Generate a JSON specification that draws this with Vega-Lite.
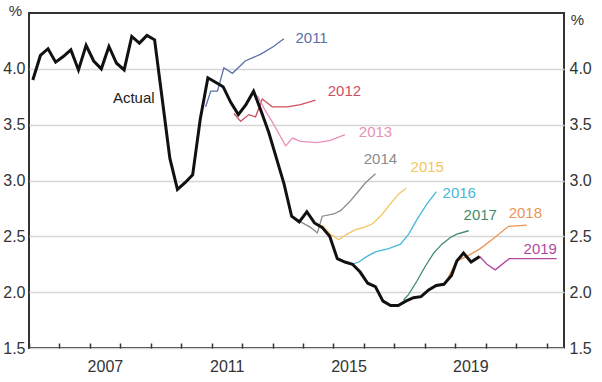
{
  "$schema": "https://vega.github.io/schema/vega-lite/v6.json",
  "width": 535,
  "height": 335,
  "autosize": {"type": "none"},
  "padding": {"left": 29, "top": 13, "right": 38, "bottom": 34},
  "background": "white",
  "config": {
    "view": {"stroke": "#333333", "strokeWidth": 2},
    "font": "Liberation Sans"
  },
  "datasets": {
    "actual": [
      {"t": 2005.125, "v": 3.90}, {"t": 2005.375, "v": 4.12}, {"t": 2005.625, "v": 4.18}, {"t": 2005.875, "v": 4.06},
      {"t": 2006.125, "v": 4.11}, {"t": 2006.375, "v": 4.17}, {"t": 2006.625, "v": 3.99}, {"t": 2006.875, "v": 4.21},
      {"t": 2007.125, "v": 4.07}, {"t": 2007.375, "v": 4.00}, {"t": 2007.625, "v": 4.20}, {"t": 2007.875, "v": 4.05},
      {"t": 2008.125, "v": 3.99}, {"t": 2008.375, "v": 4.29}, {"t": 2008.625, "v": 4.23}, {"t": 2008.875, "v": 4.30},
      {"t": 2009.125, "v": 4.26}, {"t": 2009.375, "v": 3.73}, {"t": 2009.625, "v": 3.20}, {"t": 2009.875, "v": 2.92},
      {"t": 2010.125, "v": 2.98}, {"t": 2010.375, "v": 3.05}, {"t": 2010.625, "v": 3.55}, {"t": 2010.875, "v": 3.92},
      {"t": 2011.125, "v": 3.88}, {"t": 2011.375, "v": 3.84}, {"t": 2011.625, "v": 3.70}, {"t": 2011.875, "v": 3.59},
      {"t": 2012.125, "v": 3.68}, {"t": 2012.375, "v": 3.80}, {"t": 2012.625, "v": 3.62}, {"t": 2012.875, "v": 3.43},
      {"t": 2013.125, "v": 3.20}, {"t": 2013.375, "v": 2.97}, {"t": 2013.625, "v": 2.68}, {"t": 2013.875, "v": 2.63},
      {"t": 2014.125, "v": 2.72}, {"t": 2014.375, "v": 2.62}, {"t": 2014.625, "v": 2.58}, {"t": 2014.875, "v": 2.50},
      {"t": 2015.125, "v": 2.30}, {"t": 2015.375, "v": 2.27}, {"t": 2015.625, "v": 2.25}, {"t": 2015.875, "v": 2.18},
      {"t": 2016.125, "v": 2.08}, {"t": 2016.375, "v": 2.05}, {"t": 2016.625, "v": 1.92}, {"t": 2016.875, "v": 1.88},
      {"t": 2017.125, "v": 1.88}, {"t": 2017.375, "v": 1.92}, {"t": 2017.625, "v": 1.95}, {"t": 2017.875, "v": 1.96},
      {"t": 2018.125, "v": 2.02}, {"t": 2018.375, "v": 2.06}, {"t": 2018.625, "v": 2.07}, {"t": 2018.875, "v": 2.15},
      {"t": 2019.05, "v": 2.28}, {"t": 2019.27, "v": 2.35}, {"t": 2019.52, "v": 2.27}, {"t": 2019.8, "v": 2.32}
    ],
    "forecasts": [
      {"s": "2011", "t": 2010.80, "v": 3.66}, {"s": "2011", "t": 2010.97, "v": 3.80}, {"s": "2011", "t": 2011.19, "v": 3.80},
      {"s": "2011", "t": 2011.40, "v": 4.01}, {"s": "2011", "t": 2011.68, "v": 3.96}, {"s": "2011", "t": 2012.10, "v": 4.07},
      {"s": "2011", "t": 2012.60, "v": 4.13}, {"s": "2011", "t": 2013.03, "v": 4.20}, {"s": "2011", "t": 2013.37, "v": 4.27},

      {"s": "2012", "t": 2011.73, "v": 3.60}, {"s": "2012", "t": 2011.95, "v": 3.53}, {"s": "2012", "t": 2012.22, "v": 3.59},
      {"s": "2012", "t": 2012.44, "v": 3.57}, {"s": "2012", "t": 2012.66, "v": 3.73}, {"s": "2012", "t": 2012.99, "v": 3.66},
      {"s": "2012", "t": 2013.48, "v": 3.66}, {"s": "2012", "t": 2013.92, "v": 3.68}, {"s": "2012", "t": 2014.41, "v": 3.72},

      {"s": "2013", "t": 2012.50, "v": 3.76}, {"s": "2013", "t": 2012.75, "v": 3.63}, {"s": "2013", "t": 2013.00, "v": 3.52},
      {"s": "2013", "t": 2013.43, "v": 3.31}, {"s": "2013", "t": 2013.65, "v": 3.38}, {"s": "2013", "t": 2013.92, "v": 3.35},
      {"s": "2013", "t": 2014.47, "v": 3.34}, {"s": "2013", "t": 2014.90, "v": 3.36}, {"s": "2013", "t": 2015.38, "v": 3.41},

      {"s": "2014", "t": 2013.70, "v": 2.66}, {"s": "2014", "t": 2013.92, "v": 2.63}, {"s": "2014", "t": 2014.25, "v": 2.58},
      {"s": "2014", "t": 2014.47, "v": 2.53}, {"s": "2014", "t": 2014.63, "v": 2.68}, {"s": "2014", "t": 2015.01, "v": 2.70},
      {"s": "2014", "t": 2015.23, "v": 2.73}, {"s": "2014", "t": 2015.50, "v": 2.80}, {"s": "2014", "t": 2015.78, "v": 2.89},
      {"s": "2014", "t": 2016.05, "v": 2.98}, {"s": "2014", "t": 2016.38, "v": 3.06},

      {"s": "2015", "t": 2014.63, "v": 2.60}, {"s": "2015", "t": 2014.90, "v": 2.52}, {"s": "2015", "t": 2015.17, "v": 2.47},
      {"s": "2015", "t": 2015.45, "v": 2.52}, {"s": "2015", "t": 2015.72, "v": 2.56}, {"s": "2015", "t": 2016.00, "v": 2.58},
      {"s": "2015", "t": 2016.27, "v": 2.61}, {"s": "2015", "t": 2016.54, "v": 2.68}, {"s": "2015", "t": 2016.87, "v": 2.79},
      {"s": "2015", "t": 2017.14, "v": 2.88}, {"s": "2015", "t": 2017.39, "v": 2.93},

      {"s": "2016", "t": 2015.61, "v": 2.25}, {"s": "2016", "t": 2015.83, "v": 2.27}, {"s": "2016", "t": 2016.10, "v": 2.32},
      {"s": "2016", "t": 2016.38, "v": 2.36}, {"s": "2016", "t": 2016.81, "v": 2.39}, {"s": "2016", "t": 2017.20, "v": 2.43},
      {"s": "2016", "t": 2017.47, "v": 2.52}, {"s": "2016", "t": 2017.74, "v": 2.65}, {"s": "2016", "t": 2018.07, "v": 2.79},
      {"s": "2016", "t": 2018.38, "v": 2.90},

      {"s": "2017", "t": 2017.30, "v": 1.93}, {"s": "2017", "t": 2017.47, "v": 1.98}, {"s": "2017", "t": 2017.74, "v": 2.10},
      {"s": "2017", "t": 2018.01, "v": 2.23}, {"s": "2017", "t": 2018.29, "v": 2.35}, {"s": "2017", "t": 2018.56, "v": 2.43},
      {"s": "2017", "t": 2018.84, "v": 2.49}, {"s": "2017", "t": 2019.05, "v": 2.52}, {"s": "2017", "t": 2019.44, "v": 2.55},

      {"s": "2018", "t": 2018.67, "v": 2.08}, {"s": "2018", "t": 2019.05, "v": 2.28}, {"s": "2018", "t": 2019.38, "v": 2.32},
      {"s": "2018", "t": 2019.82, "v": 2.39}, {"s": "2018", "t": 2020.20, "v": 2.47}, {"s": "2018", "t": 2020.75, "v": 2.59},
      {"s": "2018", "t": 2021.35, "v": 2.60},

      {"s": "2019", "t": 2019.80, "v": 2.32}, {"s": "2019", "t": 2020.04, "v": 2.25}, {"s": "2019", "t": 2020.31, "v": 2.20},
      {"s": "2019", "t": 2020.77, "v": 2.30}, {"s": "2019", "t": 2021.13, "v": 2.30}, {"s": "2019", "t": 2022.33, "v": 2.30}
    ],
    "labels": [
      {"s": "2011", "t": 2014.28, "v": 4.28, "label": "2011"},
      {"s": "2012", "t": 2015.36, "v": 3.80, "label": "2012"},
      {"s": "2013", "t": 2016.38, "v": 3.43, "label": "2013"},
      {"s": "2014", "t": 2016.54, "v": 3.19, "label": "2014"},
      {"s": "2015", "t": 2018.08, "v": 3.12, "label": "2015"},
      {"s": "2016", "t": 2019.13, "v": 2.89, "label": "2016"},
      {"s": "2017", "t": 2019.82, "v": 2.69, "label": "2017"},
      {"s": "2018", "t": 2021.30, "v": 2.71, "label": "2018"},
      {"s": "2019", "t": 2021.79, "v": 2.39, "label": "2019"},
      {"s": "Actual", "t": 2008.44, "v": 3.74, "label": "Actual"}
    ]
  },
  "layer": [
    {
      "data": {"name": "forecasts"},
      "mark": {"type": "line", "strokeWidth": 1.3},
      "encoding": {
        "x": {
          "field": "t", "type": "quantitative",
          "scale": {"domain": [2005, 2022.57], "nice": false, "zero": false},
          "axis": {
            "title": null, "values": [2005, 2006, 2007, 2008, 2009, 2010, 2011, 2012, 2013, 2014, 2015, 2016, 2017, 2018, 2019, 2020, 2021, 2022],
            "labelExpr": "(datum.value == 2007 || datum.value == 2011 || datum.value == 2015 || datum.value == 2019) ? toString(datum.value) : ''",
            "tickSize": -5, "tickColor": "#333333", "tickWidth": 1.5, "domain": false, "grid": false,
            "labelOffset": 15, "labelPadding": 15, "labelFontSize": 16, "labelColor": "#333333",
            "labelFlush": false, "labelOverlap": false, "labelBound": false
          }
        },
        "y": {
          "field": "v", "type": "quantitative",
          "scale": {"domain": [1.5, 4.5], "nice": false, "zero": false},
          "axis": {
            "orient": "left", "values": [1.5, 2, 2.5, 3, 3.5, 4], "format": ".1f",
            "title": "%", "titleAngle": 0, "titleX": -14, "titleY": -3, "titleAlign": "center", "titleBaseline": "middle",
            "titleFontSize": 15, "titleFontWeight": "normal", "titleColor": "#333333",
            "grid": true, "gridColor": "#d6d6d6", "gridWidth": 1.5, "ticks": false, "domain": false,
            "labelPadding": 4, "labelFontSize": 16, "labelColor": "#333333"
          }
        },
        "color": {
          "field": "s", "type": "nominal",
          "scale": {
            "domain": ["2011", "2012", "2013", "2014", "2015", "2016", "2017", "2018", "2019", "Actual"],
            "range": ["#5a70a8", "#d0505f", "#e890b8", "#8c8c8c", "#f2c660", "#45b8d8", "#3f8c6c", "#eb9455", "#b2479f", "#222222"]
          },
          "legend": null
        },
        "detail": {"field": "s"}
      }
    },
    {
      "data": {"name": "actual"},
      "mark": {"type": "line", "color": "#111111", "strokeWidth": 3},
      "encoding": {
        "x": {
          "field": "t", "type": "quantitative",
          "scale": {"domain": [2005, 2022.57], "nice": false, "zero": false},
          "axis": {
            "title": null, "values": [2005, 2006, 2007, 2008, 2009, 2010, 2011, 2012, 2013, 2014, 2015, 2016, 2017, 2018, 2019, 2020, 2021, 2022],
            "labelExpr": "(datum.value == 2007 || datum.value == 2011 || datum.value == 2015 || datum.value == 2019) ? toString(datum.value) : ''",
            "tickSize": -5, "tickColor": "#333333", "tickWidth": 1.5, "domain": false, "grid": false,
            "labelOffset": 15, "labelPadding": 15, "labelFontSize": 16, "labelColor": "#333333",
            "labelFlush": false, "labelOverlap": false, "labelBound": false
          }
        },
        "y": {
          "field": "v", "type": "quantitative",
          "scale": {"domain": [1.5, 4.5], "nice": false, "zero": false},
          "axis": null
        }
      }
    },
    {
      "data": {"name": "labels"},
      "mark": {"type": "text", "fontSize": 15, "align": "center", "baseline": "middle"},
      "encoding": {
        "x": {
          "field": "t", "type": "quantitative",
          "scale": {"domain": [2005, 2022.57], "nice": false, "zero": false},
          "axis": {
            "title": null, "values": [2005, 2006, 2007, 2008, 2009, 2010, 2011, 2012, 2013, 2014, 2015, 2016, 2017, 2018, 2019, 2020, 2021, 2022],
            "labelExpr": "(datum.value == 2007 || datum.value == 2011 || datum.value == 2015 || datum.value == 2019) ? toString(datum.value) : ''",
            "tickSize": -5, "tickColor": "#333333", "tickWidth": 1.5, "domain": false, "grid": false,
            "labelOffset": 15, "labelPadding": 15, "labelFontSize": 16, "labelColor": "#333333",
            "labelFlush": false, "labelOverlap": false, "labelBound": false
          }
        },
        "y": {
          "field": "v", "type": "quantitative",
          "scale": {"domain": [1.5, 4.5], "nice": false, "zero": false},
          "axis": {
            "orient": "right", "values": [1.5, 2, 2.5, 3, 3.5, 4], "format": ".1f",
            "title": "%", "titleAngle": 0, "titleX": 13, "titleY": 6, "titleAlign": "center", "titleBaseline": "middle",
            "titleFontSize": 15, "titleFontWeight": "normal", "titleColor": "#333333",
            "grid": false, "ticks": false, "domain": false,
            "labelPadding": 5, "labelFontSize": 16, "labelColor": "#333333"
          }
        },
        "text": {"field": "label"},
        "color": {
          "field": "s", "type": "nominal",
          "scale": {
            "domain": ["2011", "2012", "2013", "2014", "2015", "2016", "2017", "2018", "2019", "Actual"],
            "range": ["#5a70a8", "#d0505f", "#e890b8", "#8c8c8c", "#f2c660", "#45b8d8", "#3f8c6c", "#eb9455", "#b2479f", "#222222"]
          },
          "legend": null
        }
      }
    }
  ],
  "resolve": {"scale": {"y": "independent"}, "axis": {"y": "independent"}}
}
